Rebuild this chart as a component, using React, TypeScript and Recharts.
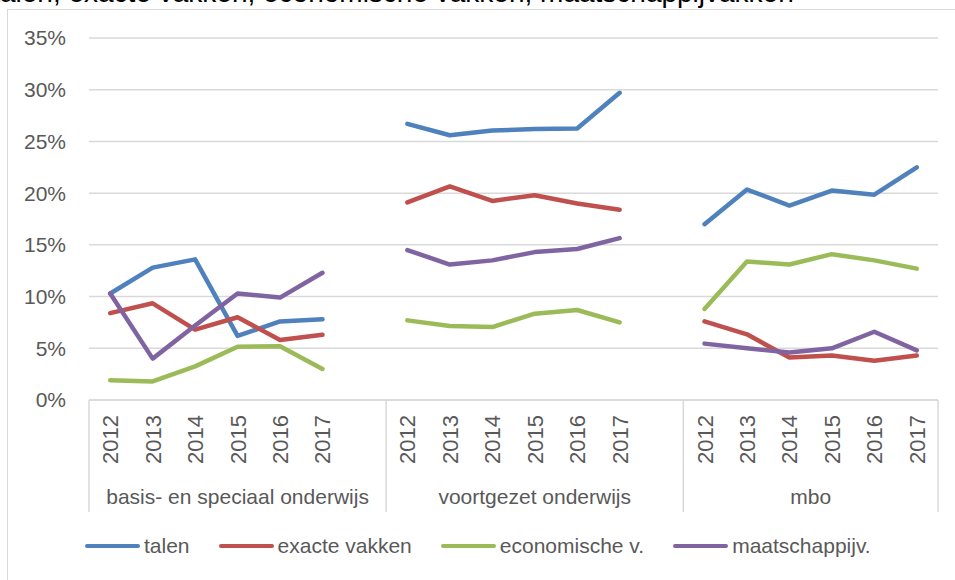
import React from "react";
import { LineChart, Line, XAxis, YAxis, CartesianGrid } from "recharts";

// ── Data ──────────────────────────────────────────────────────────────────────

const groups = ["basis- en speciaal onderwijs", "voortgezet onderwijs", "mbo"];
const years = ["2012", "2013", "2014", "2015", "2016", "2017"];

// 18 values per series: 6 years × 3 school types (basis, vo, mbo)
const talen = [
  10.3, 12.8, 13.6, 6.2, 7.6, 7.8,
  26.7, 25.6, 26.05, 26.2, 26.25, 29.7,
  17.0, 20.35, 18.8, 20.25, 19.85, 22.5,
];
const exacteVakken = [
  8.4, 9.35, 6.8, 8.0, 5.8, 6.3,
  19.1, 20.65, 19.25, 19.8, 19.0, 18.4,
  7.6, 6.35, 4.1, 4.3, 3.8, 4.3,
];
const economischeV = [
  1.9, 1.8, 3.25, 5.15, 5.2, 3.0,
  7.7, 7.15, 7.05, 8.35, 8.7, 7.5,
  8.8, 13.4, 13.1, 14.1, 13.5, 12.7,
];
const maatschappijV = [
  10.3, 4.0, 7.2, 10.3, 9.9, 12.3,
  14.5, 13.1, 13.5, 14.3, 14.6, 15.65,
  5.45, 5.0, 4.6, 5.0, 6.6, 4.8,
];
const yTicks = [0, 5, 10, 15, 20, 25, 30, 35];

const series = [
  { key: "talen", name: "talen", values: talen, color: "#4f81bd" },
  { key: "exacte", name: "exacte vakken", values: exacteVakken, color: "#c0504d" },
  { key: "econ", name: "economische v.", values: economischeV, color: "#9bbb59" },
  { key: "maat", name: "maatschappijv.", values: maatschappijV, color: "#8064a2" },
];

// Rows: each group's years, then one empty category so the lines break
type Row = { key: string; year: string; group: number; [k: string]: any };
const rows: Row[] = [];
groups.forEach((_, g) => {
  years.forEach((y, i) => {
    const row: Row = { key: `${g}-${y}`, year: y, group: g };
    series.forEach((s) => (row[s.key] = s.values[g * years.length + i]));
    rows.push(row);
  });
  if (g < groups.length - 1) rows.push({ key: `gap-${g}`, year: "", group: g });
});

// ── Layout ────────────────────────────────────────────────────────────────────

const FONT = '"Liberation Sans", Arial, sans-serif';
const TEXT = "#595959";
const GRID = "#d9d9d9";
const W = 955;
const H = 580;
const PLOT_LEFT = 89;
const PLOT_RIGHT = 938;
const PLOT_TOP = 38;
const PLOT_BOTTOM = 400;
const STEP = (PLOT_RIGHT - PLOT_LEFT) / rows.length;

function CategoryTick(props: any) {
  const { x, index } = props;
  const row = rows[index];
  if (!row) return null;
  const out: React.ReactNode[] = [];
  if (row.year) {
    const tx = x + 8;
    const ty = 415;
    out.push(
      <text
        key="y"
        x={tx}
        y={ty}
        textAnchor="end"
        transform={`rotate(-90, ${tx}, ${ty})`}
        fontFamily={FONT}
        fontSize={22}
        fill={TEXT}
      >
        {row.year}
      </text>
    );
  }
  // group separators
  const sep = (sx: number, k: string) => (
    <line key={k} x1={sx} x2={sx} y1={PLOT_BOTTOM} y2={512} stroke={GRID} strokeWidth={1.5} />
  );
  if (index === 0) out.push(sep(x - STEP / 2, "l"));
  const last = index === rows.length - 1 || (rows[index + 1] && rows[index + 1].group !== row.group);
  if (last) out.push(sep(x + STEP / 2, "r"));

  // group label centred under its categories
  const members = rows.map((r, i) => (r.group === row.group ? i : -1)).filter((i) => i >= 0);
  const mid = (members[0] + members[members.length - 1]) / 2;
  if (index === Math.floor(mid)) {
    const gx = x + (mid - Math.floor(mid)) * STEP;
    out.push(
      <text key="g" x={gx} y={504} textAnchor="middle" fontFamily={FONT} fontSize={21} fill={TEXT}>
        {groups[row.group]}
      </text>
    );
  }
  return <g>{out}</g>;
}

// ── Component ─────────────────────────────────────────────────────────────────

export default function App() {
  return (
    <div style={{ position: "absolute", left: 0, top: 0, width: W, height: H, background: "#fff", overflow: "hidden" }}>
      {/* title, cut off by the top of the picture */}
      <div
        style={{
          position: "absolute",
          left: -7.8,
          top: -21,
          fontFamily: FONT,
          fontSize: 28,
          lineHeight: "28px",
          color: "#000",
          whiteSpace: "nowrap",
        }}
      >
        talen, exacte vakken, economische vakken, maatschappijvakken
      </div>

      {/* chart frame */}
      <div
        style={{
          position: "absolute",
          left: 7,
          top: 9,
          width: W,
          height: H,
          border: `1.5px solid ${GRID}`,
          boxSizing: "border-box",
        }}
      />

      <div style={{ position: "absolute", left: 0, top: 0 }}>
        <LineChart
          width={W}
          height={H}
          data={rows}
          margin={{ top: PLOT_TOP, right: W - PLOT_RIGHT, bottom: 0, left: 0 }}
        >
          <CartesianGrid vertical={false} stroke={GRID} strokeWidth={1.5} />
          <XAxis
            dataKey="key"
            interval={0}
            height={H - PLOT_BOTTOM}
            padding={{ left: STEP / 2, right: STEP / 2 }}
            axisLine={{ stroke: GRID, strokeWidth: 1.5 }}
            tickLine={false}
            tick={<CategoryTick />}
          />
          <YAxis
            type="number"
            domain={[0, 35]}
            ticks={yTicks}
            width={PLOT_LEFT}
            axisLine={false}
            tickLine={false}
            tickSize={0}
            tickMargin={23}
            tickFormatter={(v: number) => `${v}%`}
            tick={{ fontFamily: FONT, fontSize: 21, fill: TEXT }}
          />
          {series.map((s) => (
            <Line
              key={s.key}
              dataKey={s.key}
              name={s.name}
              type="linear"
              stroke={s.color}
              strokeWidth={4.5}
              strokeLinecap="round"
              strokeLinejoin="round"
              dot={false}
              activeDot={false}
              connectNulls={false}
              isAnimationActive={false}
            />
          ))}
        </LineChart>
      </div>

      {/* legend */}
      <div
        style={{
          position: "absolute",
          left: 85,
          top: 534,
          display: "flex",
          alignItems: "center",
          gap: 29,
          fontFamily: FONT,
          fontSize: 21,
          color: TEXT,
        }}
      >
        {series.map((s) => (
          <div key={s.key} style={{ display: "flex", alignItems: "center", gap: 4 }}>
            <div style={{ width: 55, height: 4.5, borderRadius: 3, background: s.color }} />
            <span>{s.name}</span>
          </div>
        ))}
      </div>
    </div>
  );
}
